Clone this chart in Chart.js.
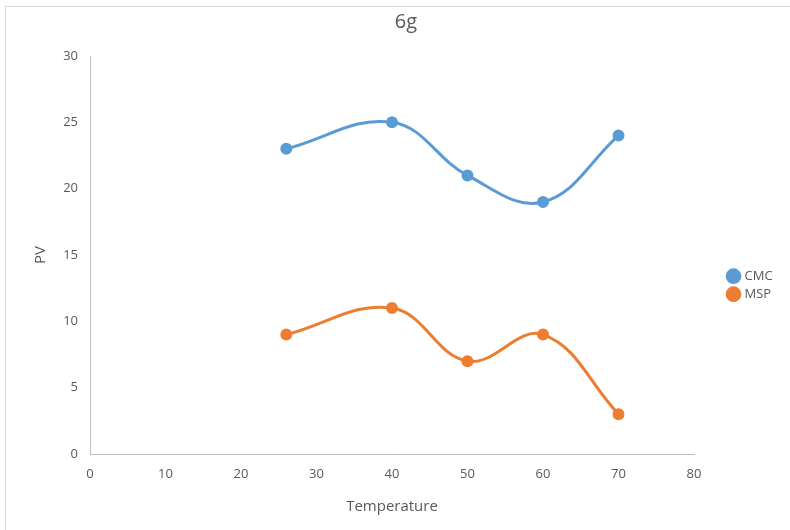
<!DOCTYPE html>
<html>
<head>
<meta charset="utf-8">
<script src="https://cdn.jsdelivr.net/npm/chart.js@4.4.1/dist/chart.umd.min.js"></script>
<style>
  body { margin: 0; background: #fff; }
  #wrap { position: relative; width: 790px; height: 530px; }
  #frame { position: absolute; left: 5px; top: 6px; right: -2px; bottom: -2px; border: 1px solid #d9d9d9; }
  canvas { position: absolute; left: 0; top: 0; }
</style>
</head>
<body>
<div id="wrap">
  <div id="frame"></div>
  <canvas id="chart" width="790" height="530"></canvas>
</div>
<script>
// chart data
const temperature = [26, 40, 50, 60, 70];
const cmcValues = [23, 25, 21, 19, 24];
const mspValues = [9, 11, 7, 9, 3];
const xTicks = [0, 10, 20, 30, 40, 50, 60, 70, 80];
const yTicks = [0, 5, 10, 15, 20, 25, 30];

const font = "'Open Sans', 'DejaVu Sans', sans-serif";
const tickColor = '#595959';

function toPoints(xs, ys) {
    return xs.map((x, i) => ({ x: x, y: ys[i] }));
}

const ctx = document.getElementById('chart').getContext('2d');
new Chart(ctx, {
    type: 'scatter',
    data: {
        datasets: [{
            label: 'CMC',
            data: toPoints(temperature, cmcValues),
            showLine: true,
            borderColor: '#5b9bd5',
            backgroundColor: '#5b9bd5',
            borderWidth: 3,
            pointRadius: 4.5,
            tension: 0.4
        }, {
            label: 'MSP',
            data: toPoints(temperature, mspValues),
            showLine: true,
            borderColor: '#ed7d31',
            backgroundColor: '#ed7d31',
            borderWidth: 3,
            pointRadius: 4.5,
            tension: 0.4
        }]
    },
    options: {
        responsive: false,
        animation: false,
        layout: { padding: { left: 28, right: 6, top: 0, bottom: 10 } },
        plugins: {
            title: {
                display: true,
                text: '6g',
                color: '#595959',
                font: { family: font, size: 20, weight: 'normal' },
                padding: { top: 10, bottom: 22 }
            },
            legend: {
                position: 'right',
                title: {
                    display: true,
                    text: ' ',
                    padding: { top: 22, bottom: 14 }
                },
                labels: {
                    usePointStyle: true,
                    pointStyle: 'circle',
                    boxWidth: 9,
                    boxHeight: 9,
                    padding: 5,
                    color: tickColor,
                    font: { family: font, size: 13 }
                }
            },
            tooltip: { enabled: false }
        },
        scales: {
            x: {
                type: 'linear',
                min: xTicks[0],
                max: xTicks[xTicks.length - 1],
                afterBuildTicks: axis => { axis.ticks = xTicks.map(v => ({ value: v })); },
                grid: { display: false, drawTicks: false },
                border: { color: '#bfbfbf', width: 1 },
                ticks: { color: tickColor, font: { family: font, size: 13 }, padding: 12 },
                title: { display: true, text: 'Temperature', color: tickColor, font: { family: font, size: 15 } },
                afterFit: axis => { axis.height = 66; }
            },
            y: {
                type: 'linear',
                min: yTicks[0],
                max: yTicks[yTicks.length - 1],
                afterBuildTicks: axis => { axis.ticks = yTicks.map(v => ({ value: v })); },
                grid: { display: false, drawTicks: false },
                border: { color: '#bfbfbf', width: 1 },
                ticks: { color: tickColor, font: { family: font, size: 13 }, padding: 12 },
                title: { display: true, text: 'PV', color: tickColor, font: { family: font, size: 15 } },
                afterFit: axis => { axis.width = 62; }
            }
        }
    },
    plugins: [{
        id: 'legendPlace',
        afterInit(chart) {
            // widen the right-hand legend so the plot ends where the reference does
            const legend = chart.legend;
            const fit = legend.fit.bind(legend);
            legend.fit = function () { fit(); this.width = 90; this.minSize = { width: 90, height: this.height }; };
        },
        afterLayout(chart) {
            // nudge the legend items to the far right like the reference
            chart.legend.left += 30;
            chart.legend.right += 30;
        }
    }]
});
</script>
</body>
</html>
